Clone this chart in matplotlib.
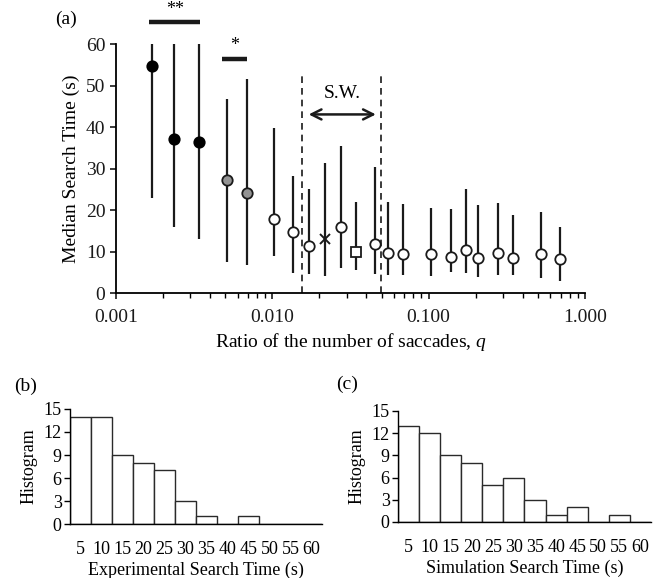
import matplotlib
matplotlib.use("Agg")
import matplotlib.pyplot as plt
import numpy as np
from matplotlib.ticker import FixedLocator, FuncFormatter, LogLocator, NullFormatter

plt.rcParams['font.family'] = ['Liberation Serif', 'DejaVu Serif']
plt.rcParams['mathtext.fontset'] = 'custom'
plt.rcParams['mathtext.it'] = 'Liberation Serif:italic'
plt.rcParams['mathtext.rm'] = 'Liberation Serif'

# ---- Panel (a) data ----
q = [0.00170, 0.00235, 0.00340, 0.00517, 0.00686, 0.0103, 0.01364,
     0.0171, 0.0216, 0.0276, 0.0345, 0.0452, 0.0551, 0.0687, 0.1033,
     0.139, 0.1735, 0.206, 0.277, 0.346, 0.523, 0.692]
median = [54.8, 37.1, 36.5, 27.3, 24.1, 17.9, 14.7,
          11.4, 13.0, 16.0, 9.9, 11.8, 9.6, 9.5, 9.5,
          8.7, 10.4, 8.6, 9.6, 8.4, 9.4, 8.3]
low = [22.9, 16.0, 13.0, 7.5, 6.8, 9.0, 4.8,
       4.6, 4.2, 6.0, 5.6, 4.7, 4.4, 4.4, 4.2,
       5.2, 4.8, 3.9, 4.3, 4.3, 3.6, 3.0]
high = [60.0, 60.0, 60.0, 46.8, 51.6, 39.8, 28.3,
        25.1, 31.3, 35.6, 22.1, 30.5, 21.9, 21.5, 20.6,
        20.3, 25.1, 21.4, 21.7, 18.8, 19.5, 16.0]
group = ['black', 'black', 'black', 'gray', 'gray', 'white', 'white',
         'white', 'cross', 'white', 'square', 'white', 'white', 'white', 'white',
         'white', 'white', 'white', 'white', 'white', 'white', 'white']
sw_bounds = [0.0155, 0.0497]
x_ticks = [0.001, 0.01, 0.1, 1.0]
y_ticks_a = [0, 10, 20, 30, 40, 50, 60]

# ---- Panels (b), (c) data ----
hist_categories = ['5', '10', '15', '20', '25', '30', '35', '40', '45', '50', '55', '60']
hist_experimental = [14, 14, 9, 8, 7, 3, 1, 0, 1, 0, 0, 0]
hist_simulation = [13, 12, 9, 8, 5, 6, 3, 1, 2, 0, 1, 0]
y_ticks_hist = [0, 3, 6, 9, 12, 15]

fig = plt.figure(figsize=(6.70, 5.78), dpi=100)

# ---------------- Panel (a) ----------------
ax = fig.add_axes([0.173, 0.4925, 0.700, 0.4309])
ax.set_xscale('log')
ax.set_xlim(0.001, 1.0)
ax.set_ylim(0, 60)

ax.vlines(q, low, high, color='#1a1a1a', lw=1.6, zorder=2)

q_arr = np.array(q); m_arr = np.array(median); g_arr = np.array(group)
styles = {
    'black': dict(marker='o', mfc='black', mec='black', ms=7.5),
    'gray': dict(marker='o', mfc='#939393', mec='#1a1a1a', ms=7.5),
    'white': dict(marker='o', mfc='white', mec='#1a1a1a', ms=7.5),
    'square': dict(marker='s', mfc='white', mec='#1a1a1a', ms=7.5),
}
for g, st in styles.items():
    sel = g_arr == g
    ax.plot(q_arr[sel], m_arr[sel], ls='none', mew=1.3, zorder=3, **st)
sel = g_arr == 'cross'
ax.plot(q_arr[sel], m_arr[sel], ls='none', marker='x', color='#1a1a1a', ms=7, mew=1.4, zorder=3)

# S.W. window
for b in sw_bounds:
    ax.plot([b, b], [0, 53], ls=(0, (4, 3)), color='#1a1a1a', lw=1.2, zorder=1)
ax.annotate('', xy=(0.0460, 43.1), xytext=(0.0171, 43.1),
            arrowprops=dict(arrowstyle='<->', lw=1.8, color='#1a1a1a',
                            mutation_scale=18, shrinkA=0, shrinkB=0))
ax.text(0.0279, 48.2, 'S.W.', ha='center', va='center', fontsize=14)

# significance bars
ax.plot([0.00164, 0.00343], [65.4, 65.4], color='#1a1a1a', lw=3.2, clip_on=False,
        solid_capstyle='butt')
ax.text(0.00238, 68.3, '**', ha='center', va='center', fontsize=13, clip_on=False)
ax.plot([0.00475, 0.00689], [56.4, 56.4], color='#1a1a1a', lw=3.2, clip_on=False,
        solid_capstyle='butt')
ax.text(0.00572, 59.8, '*', ha='center', va='center', fontsize=13, clip_on=False)

ax.xaxis.set_major_locator(FixedLocator(x_ticks))
ax.xaxis.set_major_formatter(FuncFormatter(lambda v, p: f'{v:.3f}'))
ax.xaxis.set_minor_locator(LogLocator(base=10, subs=np.arange(2, 10), numticks=20))
ax.xaxis.set_minor_formatter(NullFormatter())
ax.set_yticks(y_ticks_a)
for s in ['top', 'right']:
    ax.spines[s].set_visible(False)
for s in ['left', 'bottom']:
    ax.spines[s].set_linewidth(1.3)
ax.tick_params(axis='both', which='major', direction='out', length=4, width=1.2,
               labelsize=14, colors='#1a1a1a')
ax.tick_params(axis='x', which='minor', direction='out', length=3.5, width=1.0)
ax.tick_params(axis='x', which='major', pad=7)
ax.set_xlabel('Ratio of the number of saccades, $q$', fontsize=14, labelpad=4)
ax.set_ylabel('Median Search Time (s)', fontsize=14, labelpad=4)
fig.text(0.082, 0.966, '(a)', fontsize=14, ha='left', va='center')

# ---------------- Histograms ----------------
def hist_panel(rect, values, xlabel, tag, tagpos):
    hx = fig.add_axes(rect)
    hx.bar(hist_categories, values, width=1.0, color='white', edgecolor='#2a2a2a', lw=1.0)
    hx.set_xlim(-0.5, len(hist_categories) - 0.5)
    hx.set_ylim(0, 15)
    hx.set_yticks(y_ticks_hist)
    for s in ['top', 'right']:
        hx.spines[s].set_visible(False)
    hx.spines['left'].set_linewidth(1.0)
    hx.spines['bottom'].set_linewidth(1.0)
    hx.tick_params(axis='y', direction='out', length=4, width=1.0, labelsize=13, pad=2)
    hx.tick_params(axis='x', length=0, labelsize=13, pad=12)
    hx.set_xlabel(xlabel, fontsize=13, labelpad=3)
    hx.set_ylabel('Histogram', fontsize=13, labelpad=4)
    fig.text(tagpos[0], tagpos[1], tag, fontsize=14, ha='left', va='center')
    return hx

hist_panel([0.1045, 0.0934, 0.376, 0.199], hist_experimental,
           'Experimental Search Time (s)', '(b)', (0.021, 0.332))
hist_panel([0.594, 0.0969, 0.3776, 0.1921], hist_simulation,
           'Simulation Search Time (s)', '(c)', (0.502, 0.335))

fig.savefig('out.png', dpi=100)
